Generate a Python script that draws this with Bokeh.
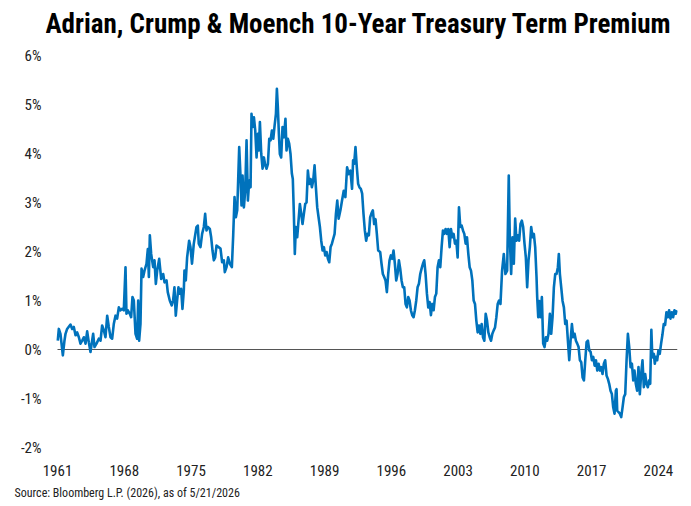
from bokeh.plotting import figure
from bokeh.models import Range1d, FixedTicker, Title, Label
from bokeh.embed import file_html
from bokeh.resources import INLINE

title_text = "Adrian, Crump & Moench 10-Year Treasury Term Premium"
source_text = "Source: Bloomberg L.P. (2026), as of 5/21/2026"

tick_years = [1961, 1968, 1975, 1982, 1989, 1996, 2003, 2010, 2017, 2024]
tick_pcts = [-2, -1, 0, 1, 2, 3, 4, 5, 6]

years_60s_70s = [
    1961.03, 1961.14, 1961.31, 1961.56, 1961.73, 1961.84, 1962.01, 1962.36, 1962.54, 1962.71,
    1962.89, 1963.06, 1963.24, 1963.41, 1963.59, 1963.76, 1963.94, 1964.11, 1964.28, 1964.46,
    1964.63, 1964.74, 1964.88, 1965.09, 1965.33, 1965.51, 1965.68, 1965.86, 1966.03, 1966.21,
    1966.38, 1966.56, 1966.73, 1966.90, 1967.08, 1967.25, 1967.43, 1967.60, 1967.78, 1967.95,
    1968.13, 1968.23, 1968.37, 1968.58, 1968.72, 1968.86, 1969.00, 1969.18, 1969.35, 1969.46,
    1969.56, 1969.70, 1969.81, 1969.98, 1970.12, 1970.33, 1970.47, 1970.58, 1970.68, 1970.82,
    1971.03, 1971.17, 1971.31, 1971.45, 1971.66, 1971.87, 1972.08, 1972.22, 1972.43, 1972.56,
    1972.77, 1972.98, 1973.12, 1973.26, 1973.40, 1973.54, 1973.68, 1973.82, 1973.96, 1974.10,
    1974.24, 1974.31, 1974.45, 1974.59, 1974.80, 1974.94,
]
premium_60s_70s = [
    0.18, 0.42, 0.32, -0.12, 0.18, 0.32, 0.42, 0.51, 0.42, 0.46,
    0.29, 0.35, 0.25, 0.12, 0.18, 0.25, 0.12, 0.37, 0.15, -0.05,
    0.18, 0.32, 0.05, 0.12, 0.22, 0.18, 0.49, 0.39, 0.25, 0.69,
    0.46, 0.25, 0.22, 0.52, 0.69, 0.63, 0.86, 0.80, 0.83, 0.80,
    1.68, 0.73, 0.80, 0.73, 0.66, 1.07, 1.00, 0.32, 0.22, 1.00,
    0.18, 0.52, 1.65, 1.48, 1.61, 1.75, 2.05, 1.48, 2.33, 1.95,
    1.68, 1.82, 1.34, 1.61, 1.85, 1.44, 1.54, 1.37, 1.41, 1.17,
    1.00, 0.90, 1.00, 1.27, 0.69, 1.00, 1.27, 1.14, 1.24, 0.83,
    1.20, 1.61, 1.41, 1.88, 2.22, 2.09,
]

years_75_90 = [
    1975.10, 1975.29, 1975.57, 1975.71, 1975.81, 1975.99, 1976.16, 1976.34, 1976.48, 1976.62,
    1976.76, 1976.97, 1977.11, 1977.25, 1977.39, 1977.53, 1977.67, 1977.88, 1978.09, 1978.26,
    1978.44, 1978.54, 1978.72, 1978.89, 1979.07, 1979.28, 1979.42, 1979.56, 1979.70, 1979.84,
    1979.94, 1980.05, 1980.19, 1980.29, 1980.40, 1980.54, 1980.68, 1980.82, 1980.96, 1981.10,
    1981.24, 1981.34, 1981.45, 1981.59, 1981.73, 1981.87, 1982.01, 1982.11, 1982.22, 1982.36,
    1982.50, 1982.64, 1982.78, 1982.92, 1983.06, 1983.20, 1983.34, 1983.48, 1983.62, 1983.76,
    1983.90, 1984.00, 1984.10, 1984.21, 1984.31, 1984.45, 1984.59, 1984.73, 1984.90, 1985.01,
    1985.15, 1985.29, 1985.43, 1985.57, 1985.67, 1985.78, 1985.88, 1985.99, 1986.13, 1986.27,
    1986.41, 1986.55, 1986.69, 1986.83, 1986.97, 1987.11, 1987.25, 1987.39, 1987.53, 1987.67,
    1987.81, 1987.95, 1988.09, 1988.23, 1988.37, 1988.51, 1988.65, 1988.79, 1988.93, 1989.07,
    1989.21, 1989.35, 1989.49, 1989.63, 1989.77, 1989.91, 1990.05, 1990.19, 1990.33, 1990.47,
]
premium_75_90 = [
    1.75, 2.16, 2.50, 2.53, 2.16, 2.09, 2.36, 2.50, 2.77, 2.43,
    2.50, 2.46, 2.29, 2.02, 1.82, 1.88, 2.12, 2.09, 2.06, 1.78,
    1.82, 1.58, 1.68, 1.88, 1.75, 1.68, 2.33, 3.11, 2.70, 2.84,
    3.45, 4.13, 3.52, 2.94, 3.55, 2.90, 3.24, 4.27, 3.04, 3.45,
    3.31, 4.81, 4.54, 4.74, 4.47, 3.92, 4.40, 4.06, 4.64, 3.99,
    3.69, 3.92, 3.76, 3.69, 3.79, 4.30, 4.27, 4.47, 4.30, 4.57,
    4.81, 5.32, 4.95, 4.40, 3.99, 3.92, 4.54, 4.33, 4.71, 4.06,
    4.30, 4.20, 3.99, 3.59, 3.48, 2.77, 1.95, 2.50, 2.29, 2.63,
    2.97, 2.77, 2.56, 2.77, 2.97, 3.00, 3.65, 3.38, 3.48, 3.31,
    3.45, 3.76, 3.31, 2.90, 2.70, 2.50, 2.22, 2.02, 2.09, 1.92,
    1.99, 1.85, 1.78, 2.09, 2.16, 2.26, 2.36, 2.77, 3.04, 2.67,
]

years_90_07 = [
    1990.66, 1990.83, 1991.01, 1991.18, 1991.36, 1991.53, 1991.71, 1991.88, 1991.99, 1992.10,
    1992.24, 1992.38, 1992.52, 1992.66, 1992.80, 1992.94, 1993.08, 1993.22, 1993.36, 1993.50,
    1993.64, 1993.78, 1993.96, 1994.06, 1994.20, 1994.34, 1994.48, 1994.62, 1994.83, 1994.97,
    1995.11, 1995.25, 1995.39, 1995.53, 1995.67, 1995.81, 1995.95, 1996.09, 1996.23, 1996.37,
    1996.51, 1996.65, 1996.79, 1996.93, 1997.07, 1997.21, 1997.35, 1997.49, 1997.63, 1997.77,
    1997.91, 1998.05, 1998.19, 1998.33, 1998.47, 1998.61, 1998.75, 1998.89, 1999.03, 1999.17,
    1999.31, 1999.45, 1999.59, 1999.73, 1999.87, 2000.01, 2000.15, 2000.29, 2000.43, 2000.57,
    2000.71, 2000.85, 2000.99, 2001.13, 2001.27, 2001.41, 2001.55, 2001.69, 2001.83, 2001.97,
    2002.11, 2002.25, 2002.39, 2002.53, 2002.67, 2002.81, 2002.95, 2003.09, 2003.23, 2003.37,
    2003.51, 2003.65, 2003.79, 2003.93, 2004.07, 2004.21, 2004.35, 2004.49, 2004.63, 2004.77,
    2004.91, 2005.05, 2005.19, 2005.33, 2005.47, 2005.61, 2005.75, 2005.89, 2006.03, 2006.17,
    2006.31, 2006.45, 2006.59, 2006.73, 2006.87, 2007.01, 2007.15, 2007.29,
]
premium_90_07 = [
    2.84, 3.04, 3.24, 3.11, 3.72, 3.58, 3.65, 3.28, 3.86, 3.79,
    4.13, 3.72, 3.38, 3.31, 3.28, 3.18, 2.77, 2.43, 2.22, 2.36,
    2.33, 2.70, 2.80, 2.84, 2.56, 2.66, 2.36, 2.02, 1.99, 1.75,
    1.54, 1.48, 1.41, 1.17, 1.54, 1.82, 1.92, 1.85, 2.02, 1.75,
    1.41, 1.54, 1.82, 1.65, 1.41, 1.27, 1.27, 0.93, 0.86, 1.07,
    1.00, 0.80, 0.70, 0.66, 0.80, 1.00, 1.27, 1.34, 1.54, 1.65,
    1.75, 1.82, 1.54, 1.14, 0.86, 0.97, 0.70, 0.93, 0.80, 1.07,
    1.14, 1.68, 1.82, 1.68, 2.09, 2.43, 2.36, 2.46, 2.36, 2.46,
    2.09, 2.46, 2.29, 2.36, 2.16, 2.22, 1.88, 2.90, 2.50, 2.53,
    2.43, 2.36, 2.16, 2.29, 1.95, 1.68, 1.61, 1.41, 1.00, 0.93,
    0.59, 0.35, 0.49, 0.32, 0.52, 0.25, 0.18, 0.73, 0.59, 0.35,
    0.25, 0.18, 0.32, 0.39, 0.45, 0.66, 0.93, 1.00,
]

years_07_26 = [
    2007.44, 2007.61, 2007.79, 2007.96, 2008.14, 2008.31, 2008.42, 2008.56, 2008.70, 2008.84,
    2008.98, 2009.12, 2009.26, 2009.40, 2009.54, 2009.68, 2009.82, 2009.96, 2010.10, 2010.24,
    2010.38, 2010.52, 2010.66, 2010.80, 2010.94, 2011.08, 2011.22, 2011.29, 2011.40, 2011.50,
    2011.64, 2011.78, 2011.92, 2012.06, 2012.20, 2012.34, 2012.48, 2012.62, 2012.76, 2012.90,
    2013.04, 2013.18, 2013.32, 2013.46, 2013.56, 2013.67, 2013.81, 2013.95, 2014.09, 2014.23,
    2014.37, 2014.51, 2014.65, 2014.79, 2014.93, 2015.07, 2015.21, 2015.35, 2015.49, 2015.63,
    2015.77, 2015.91, 2016.05, 2016.19, 2016.33, 2016.47, 2016.61, 2016.75, 2016.89, 2017.03,
    2017.17, 2017.31, 2017.45, 2017.59, 2017.73, 2017.87, 2018.00, 2018.14, 2018.28, 2018.42,
    2018.56, 2018.70, 2018.84, 2018.98, 2019.12, 2019.26, 2019.40, 2019.54, 2019.61, 2019.68,
    2019.82, 2019.96, 2020.10, 2020.24, 2020.38, 2020.52, 2020.66, 2020.80, 2020.94, 2021.08,
    2021.22, 2021.36, 2021.49, 2021.63, 2021.77, 2021.91, 2022.05, 2022.19, 2022.33, 2022.47,
    2022.61, 2022.75, 2022.89, 2023.03, 2023.14, 2023.26, 2023.36, 2023.52, 2023.62, 2023.73,
    2023.87, 2024.00, 2024.14, 2024.28, 2024.42, 2024.56, 2024.70, 2024.84, 2024.98, 2025.12,
    2025.26, 2025.40, 2025.54, 2025.68, 2025.82, 2025.96,
]
premium_07_26 = [
    0.93, 1.61, 1.95, 1.54, 1.61, 3.55, 2.29, 1.54, 2.29, 1.75,
    2.67, 2.22, 2.33, 2.22, 2.56, 2.63, 2.50, 2.16, 1.88, 1.27,
    1.82, 2.09, 2.50, 2.29, 2.36, 2.09, 1.48, 1.07, 0.66, 0.99,
    0.66, 1.07, 0.12, 0.05, 0.25, 0.18, 0.32, 0.73, 0.32, 0.66,
    1.27, 1.54, 1.54, 1.68, 1.95, 1.54, 1.27, 0.99, 0.86, 0.52,
    0.59, 0.18, -0.22, 0.18, 0.52, 0.25, 0.32, 0.18, 0.12, 0.05,
    -0.22, -0.26, -0.57, -0.63, -0.22, 0.15, 0.18, -0.02, -0.05, -0.22,
    -0.15, -0.33, -0.22, -0.43, -0.29, -0.43, -0.36, -0.50, -0.29, -0.22,
    -0.53, -0.60, -0.70, -0.84, -0.91, -1.18, -1.31, -0.84, -0.81, -1.25,
    -1.28, -1.31, -1.38, -1.18, -0.97, -0.91, -0.22, 0.32, 0.05, -0.36,
    -0.29, -0.63, -0.43, -0.70, -0.84, -0.36, -0.91, -0.50, -0.22, -0.77,
    -0.50, -0.70, -0.77, -0.63, -0.70, 0.40, -0.16, -0.09, -0.29, -0.15,
    -0.22, -0.02, -0.09, 0.12, 0.30, 0.52, 0.50, 0.76, 0.66, 0.80,
    0.63, 0.76, 0.66, 0.80, 0.73, 0.80,
]

years = years_60s_70s + years_75_90 + years_90_07 + years_07_26
premium = premium_60s_70s + premium_75_90 + premium_90_07 + premium_07_26

FONT = "Roboto Condensed"

# Layout in pixels (canvas 691x506): plot frame spans x 45..677, y 0..447.
# The 1961 tick sits 12 px right of the frame edge, 6% sits 55 px below the top.
PX_PER_YEAR = 620 / 65.0
PX_PER_PCT = 49.0
x_start = tick_years[0] - 12 / PX_PER_YEAR
x_end = 2026
y_top = tick_pcts[-1] + 55 / PX_PER_PCT

p = figure(
    width=691, height=506,
    x_range=Range1d(x_start, x_end), y_range=Range1d(tick_pcts[0], y_top),
    output_backend="svg", toolbar_location=None,
    min_border_left=45, min_border_right=14, min_border_top=0, min_border_bottom=59,
    outline_line_color=None,
)

# chart title inside the (extended) frame, top-left
p.add_layout(Label(
    x=x_start, y=tick_pcts[-1] + 32 / PX_PER_PCT, x_units="data", y_units="data",
    text=title_text, text_font=FONT, text_font_size="27px", text_font_style="bold",
    text_color="#000000", text_baseline="alphabetic", text_align="left",
))

p.grid.visible = False
for ax in (p.xaxis[0], p.yaxis[0]):
    ax.axis_line_color = None
    ax.major_tick_line_color = None
    ax.minor_tick_line_color = None
    ax.major_tick_out = 0
    ax.major_tick_in = 0
    ax.major_label_text_font = FONT
    ax.major_label_text_font_size = "15px"
    ax.major_label_text_color = "#222222"

p.xaxis[0].ticker = FixedTicker(ticks=tick_years)
p.xaxis[0].major_label_standoff = 17
p.yaxis[0].ticker = FixedTicker(ticks=tick_pcts)
p.yaxis[0].major_label_overrides = {v: f"{v}%" for v in tick_pcts}
p.yaxis[0].major_label_standoff = 4

# zero reference line over the data period
p.segment(x0=[tick_years[0]], y0=[0], x1=[x_end], y1=[0], line_color="#555555", line_width=1.2)
p.line(years, premium, line_color="#0072BC", line_width=2.6, line_join="round")

src = Title(text=source_text, align="left", text_font=FONT, text_font_size="12px",
            text_font_style="normal", text_color="#222222", offset=-31)
p.add_layout(src, "below")

open("out.html", "w").write(file_html(p, INLINE))
